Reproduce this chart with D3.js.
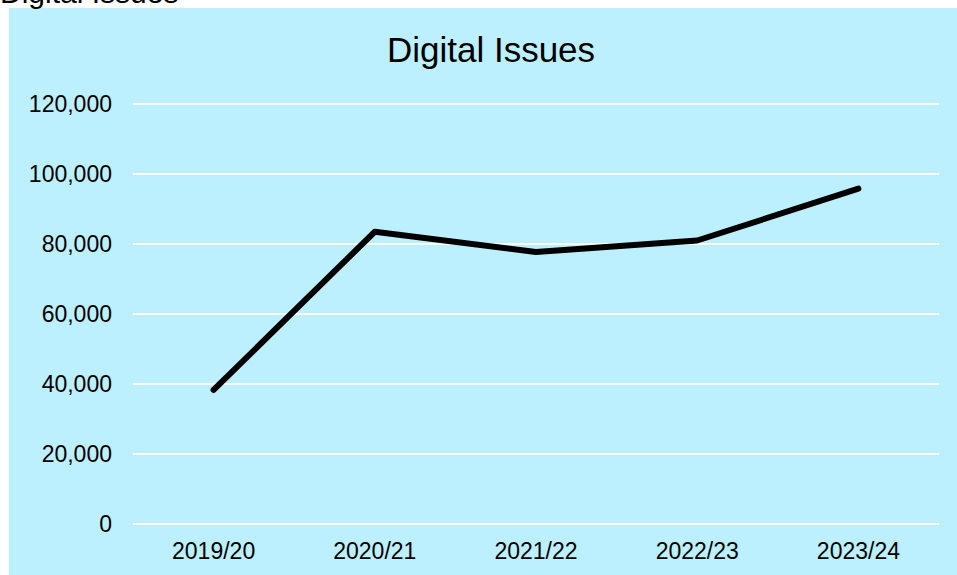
<!DOCTYPE html>
<html><head><meta charset="utf-8">
<script src="https://cdn.jsdelivr.net/npm/d3@7"></script>
<style>body{margin:0;background:#fff;overflow:hidden}svg{display:block}</style>
</head><body>
<svg id="c" width="957" height="575"></svg>
<script>
const categories = ["2019/20","2020/21","2021/22","2022/23","2023/24"];
const values = [38300, 83500, 77700, 81000, 95800];
const yTicks = [0,20000,40000,60000,80000,100000,120000];
const title = "Digital Issues";

const svg = d3.select("#c");
const font = "'Liberation Sans', Arial, sans-serif";
svg.append("rect").attr("x",9).attr("y",8).attr("width",948).attr("height",567).attr("fill","#bdf0fe");
svg.append("text").attr("x",0).attr("y",3).attr("font-family",font).attr("font-size",30).attr("fill","#000").text(title);

const m = {l:133, r:939, t:104, b:524};
const x = d3.scaleBand().domain(categories).range([m.l,m.r]);
const y = d3.scaleLinear().domain([0,120000]).range([m.b,m.t]);

svg.append("g").selectAll("line").data(yTicks).join("line")
  .attr("x1",m.l).attr("x2",m.r).attr("y1",d=>y(d)).attr("y2",d=>y(d))
  .attr("stroke","#fff").attr("stroke-width",2);

const yAxis = svg.append("g").attr("transform",`translate(${m.l},0)`)
  .call(d3.axisLeft(y).tickValues(yTicks).tickFormat(d3.format(",")).tickSize(0).tickPadding(21));
yAxis.select(".domain").remove();
yAxis.selectAll("text").attr("font-family",font).attr("font-size",23).attr("fill","#000");

const xAxis = svg.append("g").attr("transform",`translate(0,${m.b})`)
  .call(d3.axisBottom(x).tickSize(0).tickPadding(19));
xAxis.select(".domain").remove();
xAxis.selectAll("text").attr("font-family",font).attr("font-size",23).attr("fill","#000");

svg.append("text").attr("x",491).attr("y",62).attr("text-anchor","middle")
  .attr("font-family",font).attr("font-size",35).attr("fill","#000").text(title);

const line = d3.line().x((d,i)=>x(categories[i])+x.bandwidth()/2).y(d=>y(d));
svg.append("path").datum(values).attr("d",line).attr("fill","none")
  .attr("stroke","#000").attr("stroke-width",6).attr("stroke-linecap","round").attr("stroke-linejoin","round");
</script>
</body></html>
